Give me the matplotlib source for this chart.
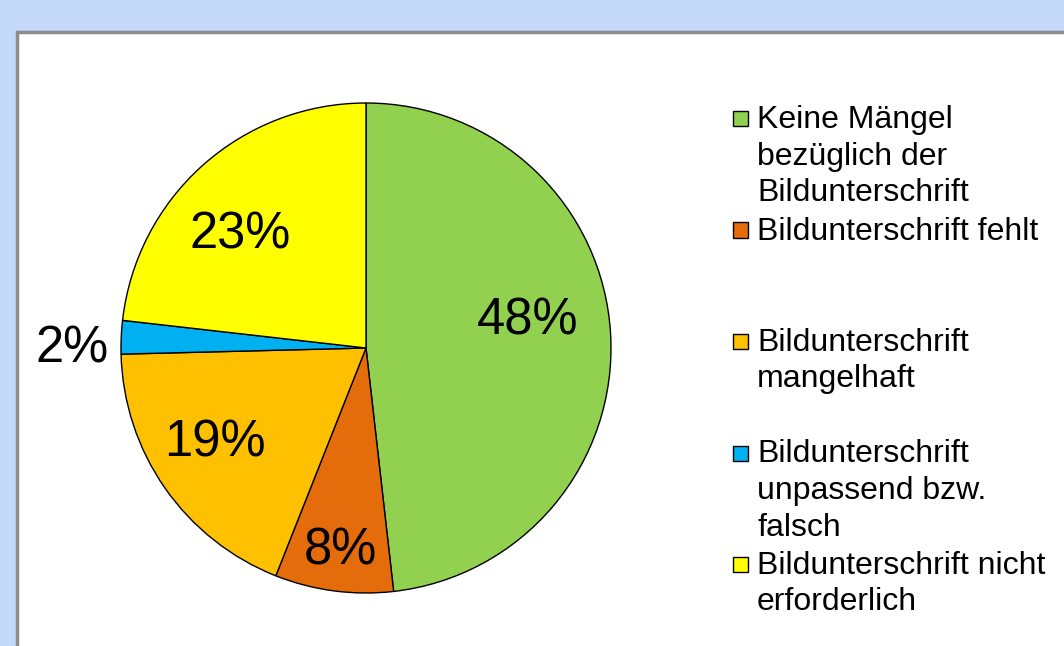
import matplotlib
matplotlib.use('Agg')
import matplotlib.pyplot as plt
from matplotlib.patches import Rectangle
import numpy as np

plt.rcParams['font.family'] = ['Liberation Sans', 'DejaVu Sans']

categories = ['Keine Mängel\nbezüglich der\nBildunterschrift',
              'Bildunterschrift fehlt',
              'Bildunterschrift\nmangelhaft',
              'Bildunterschrift\nunpassend bzw.\nfalsch',
              'Bildunterschrift nicht\nerforderlich']
shares = [48.2, 7.8, 18.6, 2.2, 23.2]
colors = ['#92D050', '#E46C0A', '#FFC000', '#00B0F0', '#FFFF00']

# label positions in pie-radius units (hand placed like the original "best fit")
label_pos = [(0.66, 0.11), (-0.106, -0.83), (-0.617, -0.388), (-1.2, -0.004), (-0.514, 0.46)]

W, H = 1064, 646
fig = plt.figure(figsize=(W / 100, H / 100), dpi=100, facecolor='#C5D9FA')

# white panel with grey border
fig.patches.append(Rectangle((16.5 / W, -0.1), 1.2, (H - 31.5) / H + 0.1,
                             transform=fig.transFigure, facecolor='white',
                             edgecolor='#8C8C8C', linewidth=2.5, zorder=-5))

cx, cy, R = 366, 348, 245
half = 320
ax = fig.add_axes([(cx - half) / W, (H - cy - half) / H, 2 * half / W, 2 * half / H])
ax.set_zorder(2)
ax.patch.set_visible(False)
ax.axis('off')

ax.pie(shares, colors=colors, startangle=90, counterclock=False, radius=1,
       wedgeprops=dict(edgecolor='black', linewidth=1))
ax.set_xlim(-half / R, half / R)
ax.set_ylim(-half / R, half / R)

for v, (x, y) in zip(shares, label_pos):
    ax.text(x, y, f'{round(v):d}%', ha='center', va='center', fontsize=36.5, color='black')

# legend, each entry gets a three-line slot
slot = 111.5
line_h = 36.5
for i, (lab, col) in enumerate(zip(categories, colors)):
    base = 128 + i * slot
    fig.patches.append(Rectangle((733 / W, 1 - (base - 2) / H), 15 / W, 15 / H,
                                 transform=fig.transFigure, facecolor=col,
                                 edgecolor='black', linewidth=1, zorder=3))
    for j, line in enumerate(lab.split('\n')):
        fig.text(757 / W, 1 - (base + j * line_h) / H, line, ha='left',
                 va='baseline', fontsize=23, color='black', zorder=3)

fig.savefig('out.png', dpi=100, facecolor=fig.get_facecolor())
